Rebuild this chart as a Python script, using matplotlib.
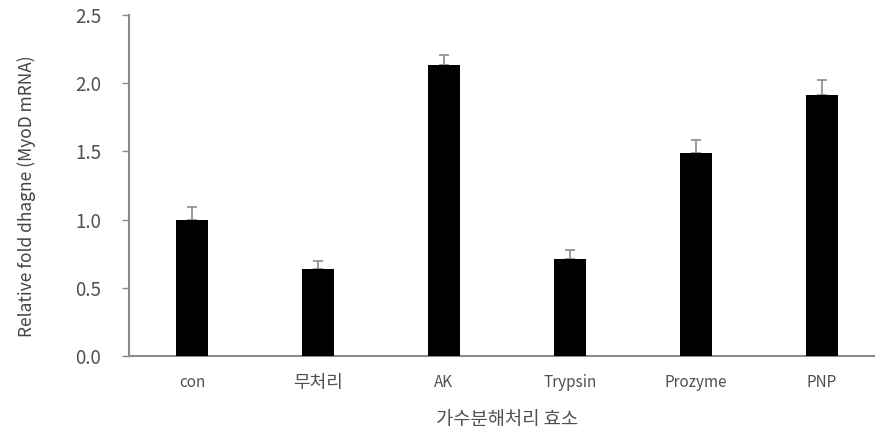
import matplotlib.pyplot as plt
import numpy as np

plt.rcParams["font.family"] = ["Noto Sans CJK KR", "DejaVu Sans"]

categories = ["con", "무처리", "AK", "Trypsin", "Prozyme", "PNP"]
fold_change = [1.00, 0.64, 2.13, 0.71, 1.49, 1.91]
fold_err = [0.09, 0.06, 0.08, 0.07, 0.09, 0.11]
y_ticks = [0.0, 0.5, 1.0, 1.5, 2.0, 2.5]

AXIS_GRAY = "#8a8a8a"
TEXT_GRAY = "#505050"


def main():
    fig = plt.figure(figsize=(8.75, 4.4), dpi=100)
    # axis runs past the right edge of the canvas
    ax = fig.add_axes([0.1474, 0.1909, 0.864, 0.775])

    x = np.arange(len(categories))
    ax.bar(x, fold_change, width=0.25, color="black", zorder=3)
    ax.errorbar(
        x,
        fold_change,
        yerr=[np.zeros(len(fold_err)), fold_err],
        fmt="none",
        ecolor=AXIS_GRAY,
        elinewidth=1.2,
        capsize=3.5,
        capthick=1.2,
        zorder=2,
    )

    ax.set_xlim(-0.5, len(categories) - 0.5)
    ax.set_ylim(0, 2.5)
    ax.set_yticks(y_ticks)
    ax.set_yticklabels([f"{t:.1f}" for t in y_ticks], fontsize=13.5, color=TEXT_GRAY)
    ax.set_xticks(x)
    ax.set_xticklabels(categories, fontsize=11, color=TEXT_GRAY)
    # hangul glyphs run a bit larger than the latin ones
    for lbl in ax.get_xticklabels():
        if not lbl.get_text().isascii():
            lbl.set_fontsize(13)

    ax.tick_params(axis="y", direction="out", length=5, width=1, color=AXIS_GRAY, pad=15)
    ax.tick_params(axis="x", length=0, pad=13)

    for side in ("top", "right"):
        ax.spines[side].set_visible(False)
    for side in ("left", "bottom"):
        ax.spines[side].set_color(AXIS_GRAY)
        ax.spines[side].set_linewidth(1.5)

    ax.set_xlabel("가수분해처리 효소", fontsize=13.5, color=TEXT_GRAY, labelpad=12)
    fig.text(
        0.03, 0.555, "Relative fold dhagne (MyoD mRNA)",
        rotation=90, ha="center", va="center", fontsize=12.5, color="#444444",
    )

    fig.savefig("out.png", dpi=100, facecolor="white")


if __name__ == "__main__":
    main()
